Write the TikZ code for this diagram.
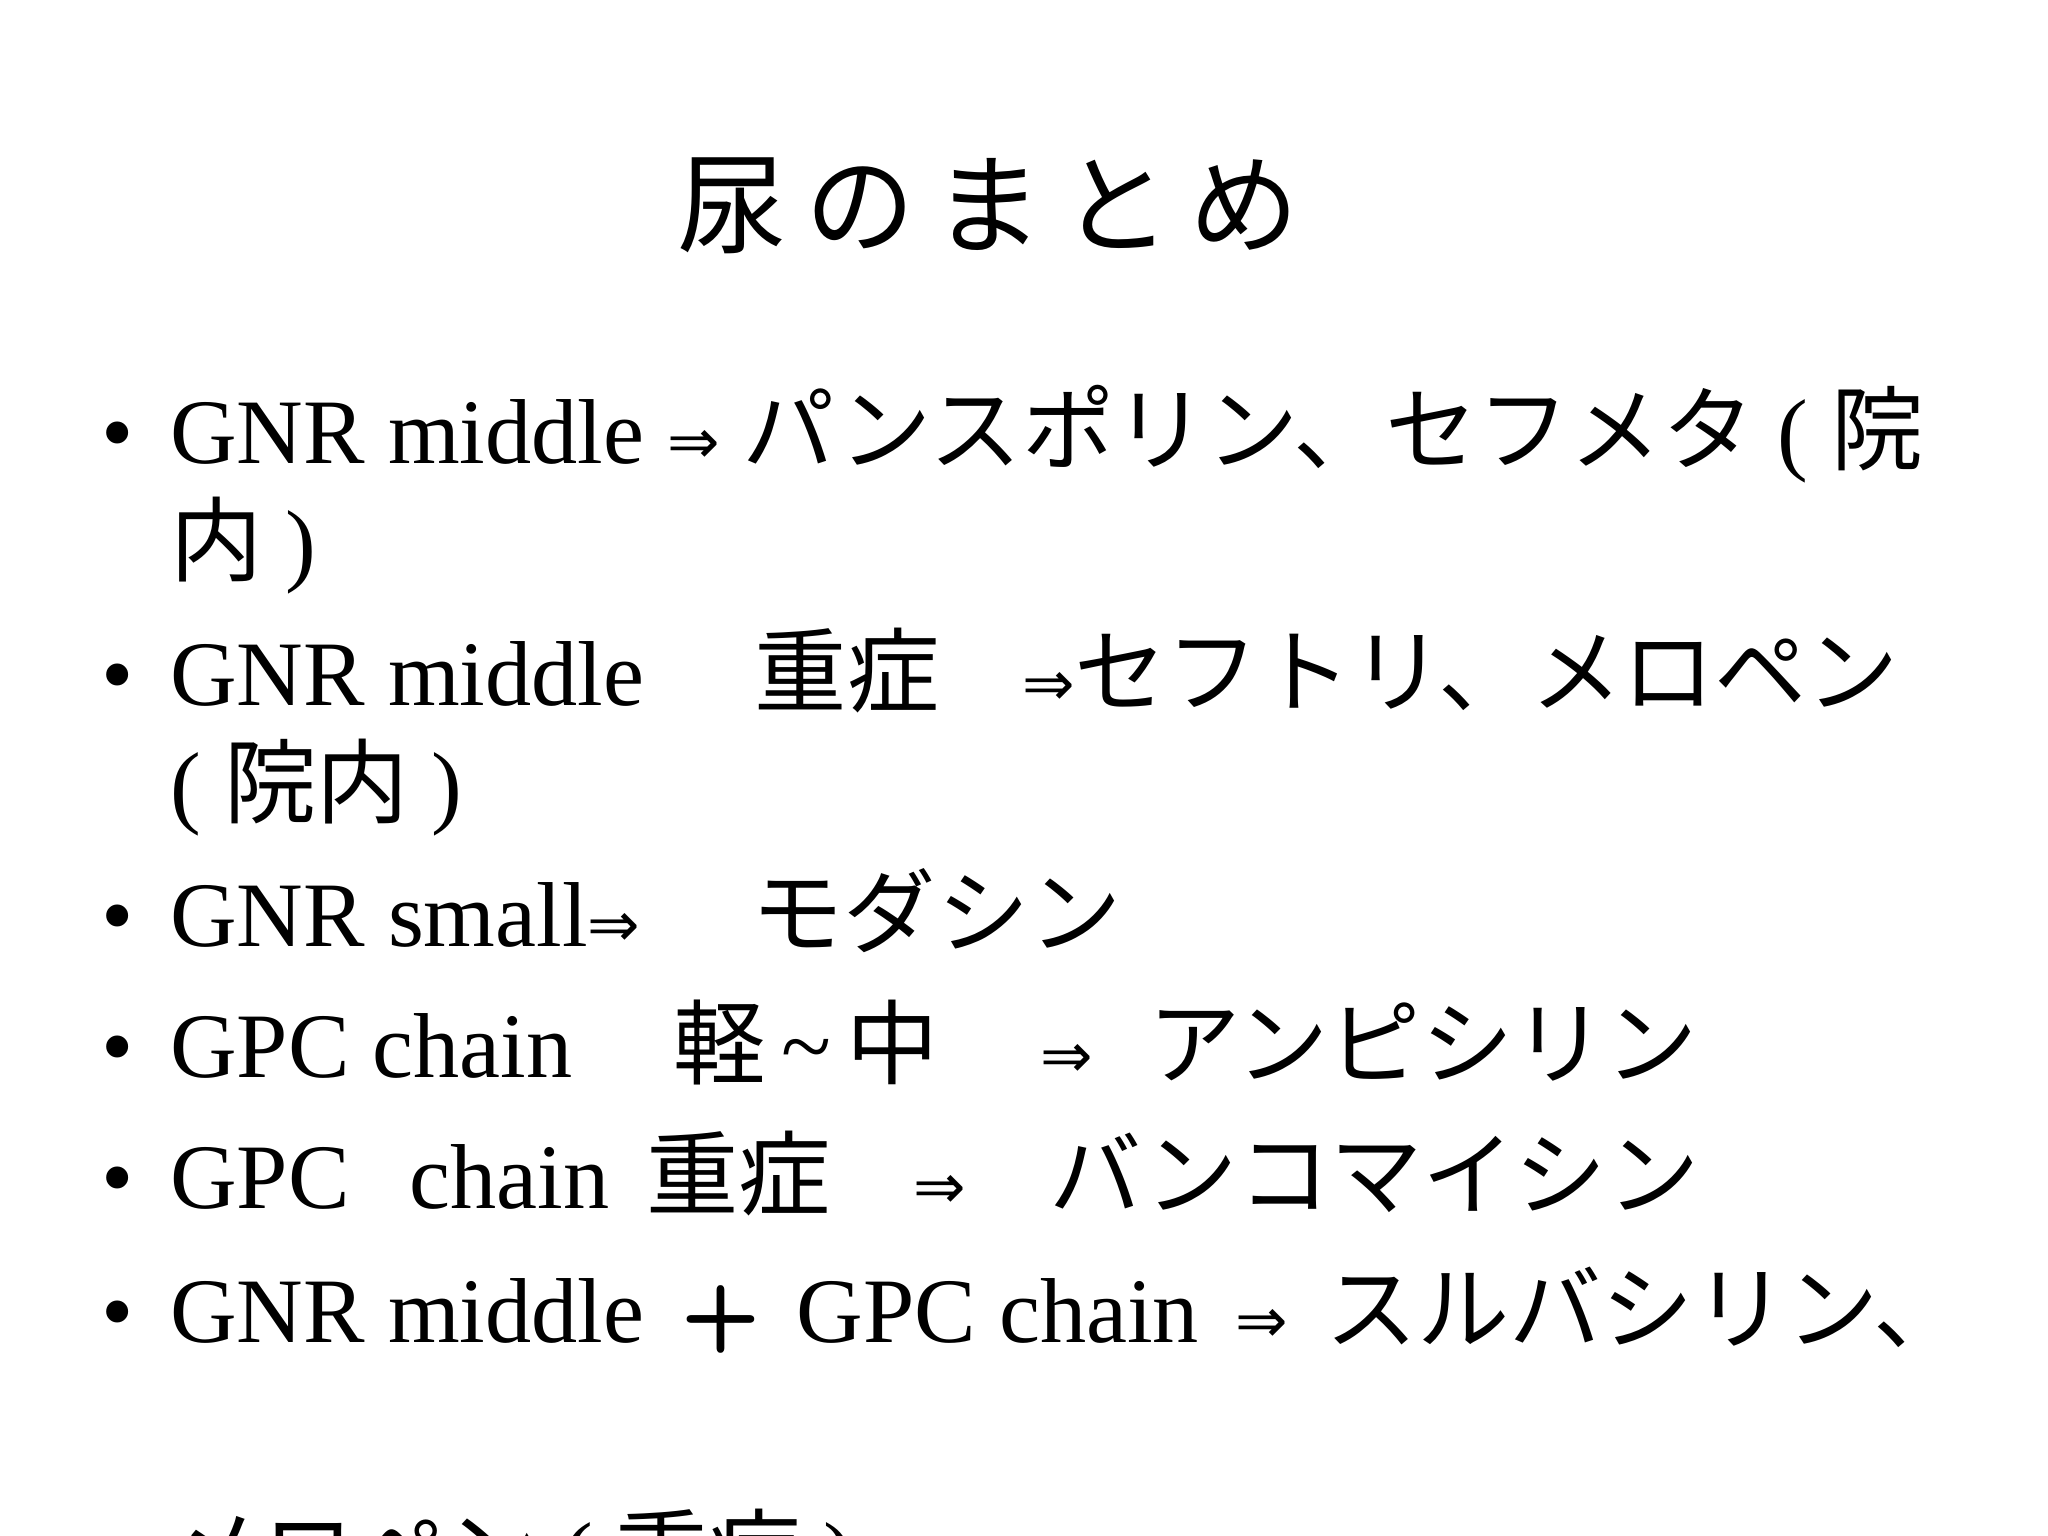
\documentclass[tikz,border=0pt]{standalone}
\usepackage{fontspec}
\setmainfont{Liberation Serif}
\newfontfamily\cjk{Noto Sans CJK JP}
\newfontfamily\djv{DejaVu Sans}
\newcommand{\imp}{{\djv\fontsize{24}{26}\selectfont ⇒}}
\begin{document}
\begin{tikzpicture}[x=0.5pt,y=-0.5pt,
  txt/.style={anchor=base west,inner sep=0pt,font=\fontsize{35.3}{40}\selectfont},
  bul/.style={anchor=base,inner sep=0pt,font=\fontsize{35.3}{40}\selectfont}]
\clip (0,0) rectangle (1568,1176);
\fill[white] (0,0) rectangle (1568,1176);
\node[anchor=base,inner sep=0pt,font=\cjk\fontsize{42}{44}\selectfont] (title) at (757,188) {尿\,の\,ま\,と\,め};
\foreach \y/\n in {355/b1,540/b2,725/b3,825/b4,925/b5,1028/b6,1215/b7}
  \node[bul] (\n) at (90,\y) {•};
\node[txt] (l1) at (130,355) {GNR middle \imp{} {\cjk パンスポリン、セフメタ} ( {\cjk 院}};
\node[txt] (l1b) at (130,440) {{\cjk 内} )};
\node[txt] (l2) at (130,540) {GNR middle\hspace{1.2em}{\cjk 重症}\hspace{0.9em}\imp{\cjk セフトリ、メロペン}};
\node[txt] (l2b) at (130,625) {( {\cjk 院内} )};
\node[txt] (l3) at (130,725) {GNR small\imp\hspace{1.2em}{\cjk モダシン}};
\node[txt] (l4) at (130,825) {GPC chain\hspace{1.1em}{\cjk 軽}\,\textasciitilde\,{\cjk 中}\hspace{1.1em}\imp\hspace{0.6em}{\cjk アンピシリン}};
\node[txt] (l5) at (130,925) {GPC\hspace{0.4em} chain\hspace{0.4em}{\cjk 重症}\hspace{0.9em}\imp\hspace{0.9em}{\cjk バンコマイシン}};
\node[txt] (l6) at (130,1028) {GNR middle\hspace{0.4em}{\sffamily\bfseries +}\hspace{0.4em}GPC chain\hspace{0.4em}\imp\hspace{0.4em}{\cjk スルバシリン、}};
\node[txt] (l7) at (130,1215) {{\cjk メロペン} ( {\cjk 重症} )};
\end{tikzpicture}
\end{document}
